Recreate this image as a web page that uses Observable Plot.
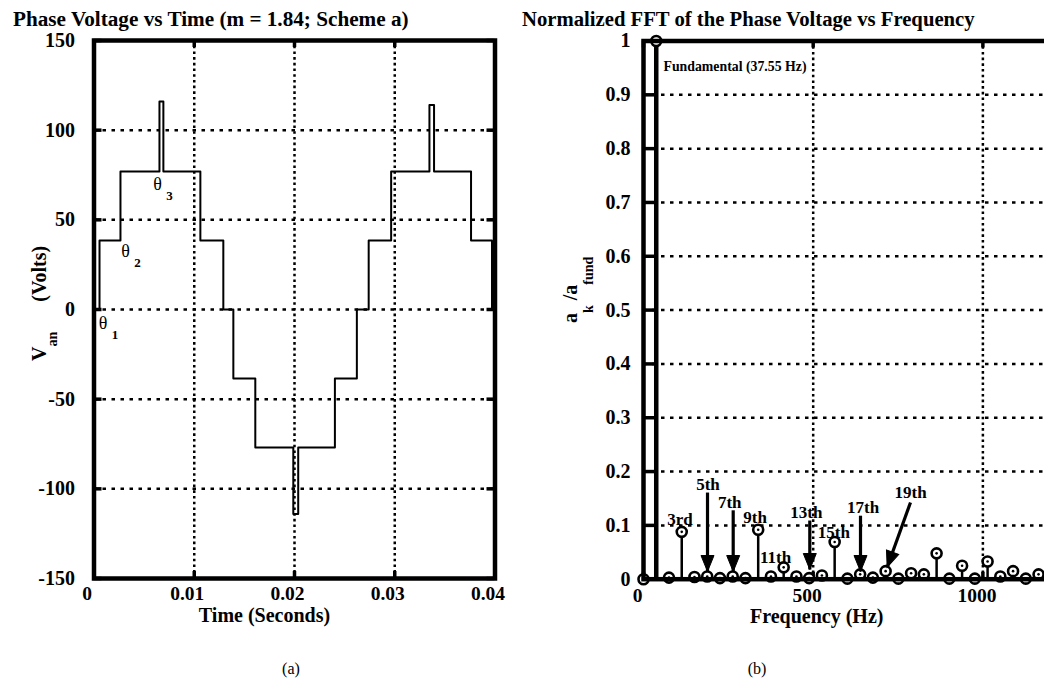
<!DOCTYPE html>
<html><head><meta charset="utf-8">
<script src="https://cdn.jsdelivr.net/npm/d3@7"></script>
<script src="https://cdn.jsdelivr.net/npm/@observablehq/plot@0.6"></script>
<style>
html,body{margin:0;padding:0;background:#fff;overflow:hidden;}
#wrap{position:relative;width:1044px;height:680px;overflow:hidden;background:#fff;}
#left{position:absolute;left:0;top:0;width:520px;height:640px;}
#right{position:absolute;left:520px;top:0;width:600px;height:640px;}
#left svg,#right svg{max-width:none !important;display:block;}
#overlay{position:absolute;left:0;top:0;pointer-events:none;}
</style></head><body>
<div id="wrap"><div id="left"></div><div id="right"></div><svg id="overlay" width="1044" height="680"></svg></div>
<script>
// ---------- (a) phase voltage waveform ----------
const waveTimes = [0, 0.00055, 0.00264, 0.00653, 0.00692, 0.01061, 0.0129, 0.0139, 0.01609, 0.01988, 0.02037, 0.02403, 0.02622, 0.0274, 0.02964, 0.03346, 0.03392, 0.03761, 0.0397, 0.04];
const waveVolts = [0, 38.5, 77, 116, 77, 38.5, 0, -38.5, -77, -114, -77, -38.5, 0, 38.5, 77, 114, 77, 38.5, 0, 0];
const voltTicks = [-150, -100, -50, 0, 50, 100, 150];
const timeTicks = [0, 0.01, 0.02, 0.03, 0.04];
const thetaSubs = ["1", "2", "3"];
const thetaTimes = [0.0009, 0.00314, 0.00633];
const thetaVolts = [-7.5, 32.3, 69.7];

// ---------- (b) normalized FFT ----------
const fundamentalHz = 37.55;
const harmonicOrders = [0,1,2,3,4,5,6,7,8,9,10,11,12,13,14,15,16,17,18,19,20,21,22,23,24,25,26,27,28,29,30,31];
const harmonicAmps = [0, 1, 0.003, 0.088, 0.004, 0.005, 0.002, 0.005, 0.002, 0.092, 0.005, 0.022, 0.005, 0.002, 0.007, 0.069, 0.001, 0.009, 0.003, 0.015, 0.001, 0.011, 0.009, 0.048, 0.001, 0.025, 0.001, 0.033, 0.005, 0.015, 0.001, 0.009];
const ampTicks = [0, 0.1, 0.2, 0.3, 0.4, 0.5, 0.6, 0.7, 0.8, 0.9, 1];
const freqTicks = [0, 500, 1000];
const noteTexts = ["3rd", "5th", "7th", "9th", "11th", "13th", "15th", "17th", "19th"];
const noteFreqs = [107.5, 190, 254, 329, 389, 480, 561, 647, 787];
const noteAmps = [0.1106, 0.1757, 0.1416, 0.1138, 0.0394, 0.1238, 0.0859, 0.1338, 0.1617];
const arrowFromFreqs = [188.6, 264.3, 490, 639.4, 786.7];
const arrowFromAmps = [0.161, 0.128, 0.109, 0.118, 0.1426];
const arrowToFreqs = [188.6, 264.3, 490, 639.4, 718];
const arrowToAmps = [0.0143, 0.0143, 0.018, 0.0143, 0.0223];
const arrowTurns = [0, 0, 0, 0, 19.8];
const fundamentalNote = "Fundamental (37.55 Hz)";
const fundamentalNoteFreq = 59;
const fundamentalNoteAmp = 0.953;

const FONT = "'Liberation Serif', 'Times New Roman', serif";
const hDash = {stroke: "black", strokeOpacity: 1, strokeWidth: 2.5, strokeDasharray: "3.5,5.5"};
const vDot = {stroke: "black", strokeOpacity: 1, strokeWidth: 2.5, strokeDasharray: "2.6,3.1"};

// ---- left plot ----
const wave = waveTimes.map((t, i) => ({t, v: waveVolts[i]}));
const thetas = thetaTimes.map((t, i) => ({t, v: thetaVolts[i], s: thetaSubs[i]}));
const LW = 520, LH = 640, LML = 93.5, LMR = 25.5, LMT = 40, LMB = 62;
const lpw = LW - LML - LMR, lph = LH - LMT - LMB;
const left = Plot.plot({
  width: LW, height: LH, marginLeft: LML, marginRight: LMR, marginTop: LMT, marginBottom: LMB,
  style: {fontFamily: FONT, fontWeight: "bold", fontSize: "20px", background: "white", color: "black", overflow: "visible", maxWidth: "none"},
  x: {domain: [0, 0.04]},
  y: {domain: [-150, 150]},
  marks: [
    Plot.gridY(voltTicks.slice(1, -1), hDash),
    Plot.gridX(timeTicks.slice(1, -1), vDot),
    Plot.tickY(voltTicks, {y: d => d, insetRight: lpw - 8, strokeWidth: 3.5}),
    Plot.tickY(voltTicks, {y: d => d, insetLeft: lpw - 8, strokeWidth: 3.5}),
    Plot.tickX(timeTicks, {x: d => d, insetBottom: lph - 7, strokeWidth: 3.5}),
    Plot.tickX(timeTicks, {x: d => d, insetTop: lph - 7, strokeWidth: 3.5}),
    Plot.line(wave, {x: "t", y: "v", curve: "step-after", stroke: "black", strokeWidth: 2}),
    Plot.text(thetas, {x: "t", y: "v", text: () => "θ", fontWeight: "normal", fontSize: 18}),
    Plot.text(thetas, {x: "t", y: "v", text: "s", dx: 12, dy: 11.5, fontWeight: "bold", fontSize: 13}),
    Plot.axisY(voltTicks, {tickSize: 0, tickPadding: 19, tickFormat: d => String(d), label: null, fontSize: 20}),
    Plot.axisX(timeTicks, {tickSize: 0, tickPadding: 8, tickFormat: d => String(d), label: null, fontSize: 19.5, dx: -7}),
    Plot.frame({stroke: "black", strokeWidth: 4.5})
  ]
});
document.getElementById("left").appendChild(left);

// ---- right plot ----
const spectrum = harmonicOrders.map((k, i) => ({f: k * fundamentalHz, a: harmonicAmps[i], k}));
const notes = noteTexts.map((s, i) => ({s, f: noteFreqs[i], a: noteAmps[i]}));
const arrows = arrowFromFreqs.map((f, i) => ({f1: f, a1: arrowFromAmps[i], f2: arrowToFreqs[i], a2: arrowToAmps[i], r: arrowTurns[i]}));
const headSymbol = {draw(ctx) { ctx.moveTo(0, 0); ctx.lineTo(-6.5, -16); ctx.lineTo(6.5, -16); ctx.closePath(); }};
const RW = 600, RH = 640, RML = 123, RMR = 0, RMT = 40.5, RMB = 61.3;
const rpw = RW - RML - RMR, rph = RH - RMT - RMB;
const right = Plot.plot({
  width: RW, height: RH, marginLeft: RML, marginRight: RMR, marginTop: RMT, marginBottom: RMB,
  style: {fontFamily: FONT, fontWeight: "bold", fontSize: "20px", background: "white", color: "black", overflow: "visible", maxWidth: "none"},
  x: {domain: [0, 1405.5]},
  y: {domain: [0, 1]},
  marks: [
    Plot.gridY(ampTicks.slice(1, -1), hDash),
    Plot.gridX([500, 1000], vDot),
    Plot.tickY(ampTicks, {y: d => d, insetRight: rpw - 11, strokeWidth: 3.5}),
    Plot.tickX(freqTicks, {x: d => d, insetBottom: rph - 7, strokeWidth: 3.5}),
    Plot.tickX(freqTicks, {x: d => d, insetTop: rph - 7, strokeWidth: 3.5}),
    Plot.ruleX(spectrum.filter(d => d.k !== 1), {x: "f", y1: 0, y2: "a", stroke: "black", strokeWidth: 2.5}),
    Plot.ruleX(spectrum.filter(d => d.k === 1), {x: "f", y1: 0, y2: "a", stroke: "black", strokeWidth: 4.5}),
    Plot.dot(spectrum, {x: "f", y: "a", r: 5, stroke: "black", strokeWidth: 2.6, fill: "white"}),
    Plot.dot(spectrum, {x: "f", y: "a", r: 1.3, fill: "black"}),
    Plot.link(arrows, {x1: "f1", y1: "a1", x2: "f2", y2: "a2", stroke: "black", strokeWidth: 3.2}),
    Plot.dot(arrows, {x: "f2", y: "a2", symbol: headSymbol, rotate: "r", fill: "black", stroke: "black", strokeWidth: 1}),
    Plot.text(notes, {x: "f", y: "a", text: "s", fontSize: 17, fontWeight: "bold"}),
    Plot.text([fundamentalNote], {x: () => fundamentalNoteFreq, y: () => fundamentalNoteAmp, text: d => d, textAnchor: "start", fontSize: 13.8, fontWeight: "bold"}),
    Plot.axisY(ampTicks, {tickSize: 0, tickPadding: 13, tickFormat: d => String(d), label: null, fontSize: 20}),
    Plot.axisX(freqTicks, {tickSize: 0, tickPadding: 9, tickFormat: d => String(d), label: null, fontSize: 19.5, dx: -6}),
    Plot.frame({stroke: "black", strokeWidth: 4.5})
  ]
});
document.getElementById("right").appendChild(right);

// ---- titles, axis labels, captions ----
const ov = d3.select("#overlay").style("font-family", FONT);
function txt(x, y, s, size, weight, anchor) {
  return ov.append("text").attr("x", x).attr("y", y).attr("font-size", size)
    .attr("font-weight", weight).attr("text-anchor", anchor || "start").attr("fill", "black").text(s);
}
txt(13, 25.5, "Phase Voltage vs Time (m = 1.84; Scheme a)", 21.2, "bold");
txt(522, 25.5, "Normalized FFT of the Phase Voltage vs Frequency", 20.7, "bold");
txt(264.5, 622, "Time (Seconds)", 20, "bold", "middle");
txt(816.7, 623, "Frequency (Hz)", 20, "bold", "middle");
txt(291, 674, "(a)", 16, "normal", "middle");
txt(757, 674, "(b)", 16, "normal", "middle");

// y label (a): V_an (Volts)
const ya = ov.append("text").attr("transform", "translate(46,361) rotate(-90)")
  .attr("font-size", 20).attr("font-weight", "bold").attr("fill", "black");
ya.append("tspan").text("V");
ya.append("tspan").attr("dy", 11).attr("font-size", 14).text("an");
ya.append("tspan").attr("dy", -11).attr("dx", 30).text("(Volts)");

// y label (b): a_k / a_fund
const yb = ov.append("text").attr("transform", "translate(577,323) rotate(-90)")
  .attr("font-size", 20).attr("font-weight", "bold").attr("fill", "black");
yb.append("tspan").text("a");
yb.append("tspan").attr("dy", 16).attr("font-size", 14).text("k");
yb.append("tspan").attr("dy", -16).text("\u00a0/a");
yb.append("tspan").attr("dy", 16).attr("font-size", 14).text("fund");
</script>
</body></html>
